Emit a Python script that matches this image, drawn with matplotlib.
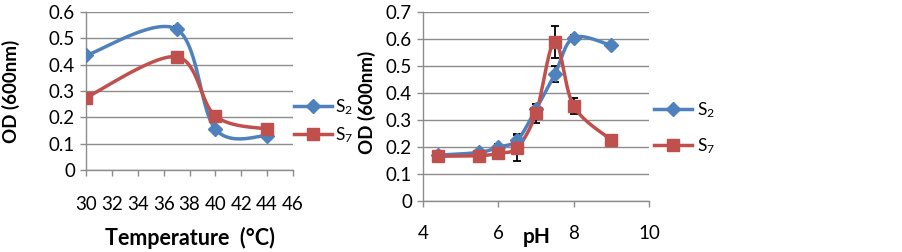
import numpy as np
import matplotlib
matplotlib.use("Agg")
import matplotlib.pyplot as plt
from matplotlib.lines import Line2D

plt.rcParams['font.family'] = ['Lato', 'DejaVu Sans']
plt.rcParams['mathtext.default'] = 'regular'

# temperature panel
temp = [30, 37, 40, 44]
temp_s2 = [0.435, 0.535, 0.155, 0.13]
temp_s7 = [0.275, 0.43, 0.205, 0.155]
temp_s2_err = [0.01, 0.01, 0.01, 0.005]

# pH panel
ph = [4.4, 5.5, 6.0, 6.5, 7.0, 7.5, 8.0, 9.0]
ph_s2 = [0.17, 0.18, 0.20, 0.225, 0.34, 0.47, 0.605, 0.576]
ph_s7 = [0.166, 0.168, 0.177, 0.198, 0.325, 0.59, 0.352, 0.226]
ph_s2_err = [0.0, 0.01, 0.01, 0.02, 0.02, 0.03, 0.01, 0.0]
ph_s7_err = [0.0, 0.0, 0.0, 0.05, 0.035, 0.06, 0.03, 0.0]

blue = '#4F81BD'
red = '#C0504D'
grid = '#8C8C8C'

W, H = 903, 252


def smooth(x, y, sx, sy, n=40):
    # Excel-like smoothed line: Catmull-Rom bezier in screen space
    p = np.column_stack([np.asarray(x, float) * sx, np.asarray(y, float) * sy])
    p = np.vstack([p[0], p, p[-1]])
    out = []
    for i in range(1, len(p) - 2):
        p0, p1, p2, p3 = p[i - 1], p[i], p[i + 1], p[i + 2]
        c1 = p1 + (p2 - p0) / 6
        c2 = p2 - (p3 - p1) / 6
        t = np.linspace(0, 1, n)[:, None]
        seg = ((1 - t) ** 3) * p1 + 3 * ((1 - t) ** 2) * t * c1 + 3 * (1 - t) * t ** 2 * c2 + t ** 3 * p2
        out.append(seg)
    out = np.vstack(out)
    return out[:, 0] / sx, out[:, 1] / sy


def style(ax, xticks, ymax, xpad):
    yt = np.round(np.arange(0, ymax + 0.01, 0.1), 1)
    ax.set_ylim(0, ymax)
    ax.set_yticks(yt)
    ax.set_yticklabels([('%g' % v) for v in yt])
    ax.set_xticks(xticks)
    ax.set_xlim(xticks[0], xticks[-1])
    ax.grid(axis='y', color=grid, lw=1)
    ax.set_axisbelow(True)
    for s in ['top', 'right']:
        ax.spines[s].set_visible(False)
    for s in ['left', 'bottom']:
        ax.spines[s].set_color(grid)
        ax.spines[s].set_linewidth(1)
    ax.tick_params(colors=grid, length=4, width=1, labelsize=13.5, labelcolor='black')
    ax.tick_params(axis='x', pad=xpad)
    ax.tick_params(axis='y', pad=4)


def series(ax, x, y, err, color, marker, ms, sx, sy):
    xs, ys = smooth(x, y, sx, sy)
    ax.plot(xs, ys, color=color, lw=2.5, zorder=3, solid_capstyle='round')
    ax.plot(x, y, ls='none', marker=marker, ms=ms, color=color, zorder=4)
    if err is not None:
        ax.errorbar(x, y, yerr=err, fmt='none', ecolor='black', elinewidth=1.3,
                    capsize=3, capthick=1.3, zorder=2.5)


fig = plt.figure(figsize=(W / 100, H / 100), dpi=100)

# left panel
l_px = (86, 293, 12, 170)
ax1 = fig.add_axes([l_px[0] / W, 1 - l_px[3] / H, (l_px[1] - l_px[0]) / W, (l_px[3] - l_px[2]) / H])
style(ax1, list(range(30, 47, 2)), 0.6, 15)
sx1 = (l_px[1] - l_px[0]) / 16
sy1 = (l_px[3] - l_px[2]) / 0.6
series(ax1, temp, temp_s2, temp_s2_err, blue, 'D', 7, sx1, sy1)
series(ax1, temp, temp_s7, None, red, 's', 9, sx1, sy1)
ax1.set_ylabel('OD (600nm)', fontsize=13.5, fontweight='bold')
ax1.yaxis.set_label_coords((20 - 86) / 207, 0.5)
ax1.set_xlabel('Temperature  (°C)', fontsize=15.5, fontweight='bold')
ax1.xaxis.set_label_coords((190 - 86) / 207, (170 - 227) / 158)

# right panel
r_px = (423, 649, 12, 201)
ax2 = fig.add_axes([r_px[0] / W, 1 - r_px[3] / H, (r_px[1] - r_px[0]) / W, (r_px[3] - r_px[2]) / H])
style(ax2, [4, 6, 8, 10], 0.7, 13)
sx2 = (r_px[1] - r_px[0]) / 6
sy2 = (r_px[3] - r_px[2]) / 0.7
series(ax2, ph, ph_s2, ph_s2_err, blue, 'D', 7, sx2, sy2)
series(ax2, ph, ph_s7, ph_s7_err, red, 's', 9, sx2, sy2)
ax2.set_ylabel('OD (600nm)', fontsize=13.5, fontweight='bold')
ax2.yaxis.set_label_coords((376 - 423) / 226, (201 - 102) / 189)
ax2.set_xlabel('pH', fontsize=15, fontweight='bold')
ax2.xaxis.set_label_coords((537 - 423) / 226, (201 - 227) / 189)

handles = [Line2D([], [], color=blue, lw=2.5, marker='D', ms=7),
           Line2D([], [], color=red, lw=2.5, marker='s', ms=9)]
labels = ['S$_2$', 'S$_7$']
fig.legend(handles, labels, loc='center left', bbox_to_anchor=(285 / W, 1 - 121 / H),
           frameon=False, fontsize=12.5, handlelength=2.2, handletextpad=0.2,
           labelspacing=0.5, borderpad=0)
fig.legend(handles, labels, loc='center left', bbox_to_anchor=(645 / W, 1 - 128 / H),
           frameon=False, fontsize=12.5, handlelength=2.2, handletextpad=0.3,
           labelspacing=0.9, borderpad=0)

fig.savefig('out.png', dpi=100)
